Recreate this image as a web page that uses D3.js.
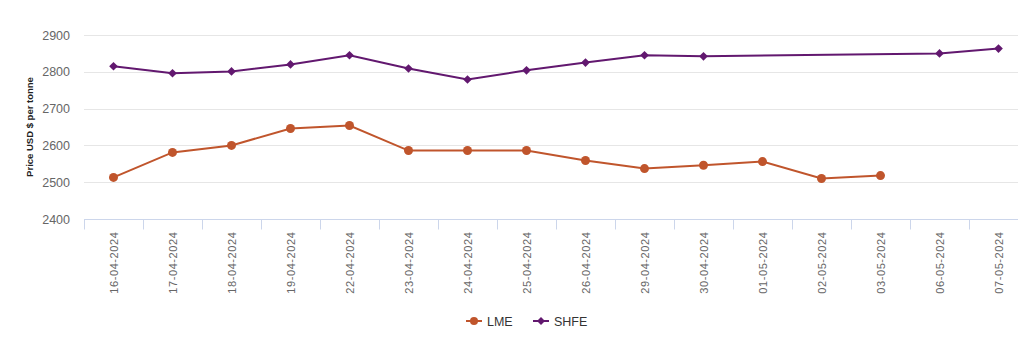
<!DOCTYPE html>
<html lang="en">
<head>
    <meta charset="UTF-8">
    <title>LME vs SHFE price</title>
    <script src="https://d3js.org/d3.v7.min.js"></script>
    <style>
        body { margin: 0; background: #fff; }
        text { font-family: "Liberation Sans", Arial, sans-serif; }
    </style>
</head>
<body>
    <div id="plot"></div>

    <script>
        // Dates and prices (USD per tonne); null = no quote that day
        const dates = ['16-04-2024', '17-04-2024', '18-04-2024', '19-04-2024', '22-04-2024',
            '23-04-2024', '24-04-2024', '25-04-2024', '26-04-2024', '29-04-2024',
            '30-04-2024', '01-05-2024', '02-05-2024', '03-05-2024', '06-05-2024', '07-05-2024'];
        const lme = [2513, 2581, 2600, 2646, 2654, 2586, 2586, 2586, 2559, 2537,
            2546, 2556, 2510, 2518, null, null];
        const shfe = [2815, 2796, 2801, 2820, 2845, 2809, 2779, 2804, 2825, 2845,
            2842, null, null, null, 2850, 2863];
        const yTicks = [2400, 2500, 2600, 2700, 2800, 2900];

        const width = 1028;
        const height = 338;
        const margin = { top: 35, right: 0, bottom: 119, left: 84 };
        const gridRight = 1018;

        const svg = d3.select('#plot')
            .append('svg')
            .attr('width', width)
            .attr('height', height);

        const xScale = d3.scaleBand()
            .domain(dates)
            .range([margin.left, width - margin.right]);

        const yScale = d3.scaleLinear()
            .domain([2400, 2900])
            .range([height - margin.bottom, margin.top]);

        const cx = d => xScale(d) + xScale.bandwidth() / 2;

        // Horizontal grid lines
        svg.append('g')
            .selectAll('line')
            .data(yTicks.slice(1))
            .join('line')
            .attr('x1', margin.left)
            .attr('x2', gridRight)
            .attr('y1', d => Math.round(yScale(d)) + 0.5)
            .attr('y2', d => Math.round(yScale(d)) + 0.5)
            .attr('stroke', '#e6e6e6');

        // Y tick labels
        svg.append('g')
            .selectAll('text')
            .data(yTicks)
            .join('text')
            .attr('x', 70)
            .attr('y', d => yScale(d) + 4.5)
            .attr('text-anchor', 'end')
            .attr('font-size', 12.5)
            .attr('fill', '#666')
            .text(d => d);

        // Y axis title
        svg.append('text')
            .attr('transform', `translate(33, ${(margin.top + height - margin.bottom) / 2}) rotate(-90)`)
            .attr('text-anchor', 'middle')
            .attr('font-family', '"Open Sans", sans-serif')
            .attr('font-size', 9.5)
            .attr('font-weight', 'bold')
            .attr('fill', '#222')
            .text('Price USD $ per tonne');

        // X axis line and tick marks at band edges
        const axisY = Math.round(yScale(2400)) + 0.5;
        svg.append('line')
            .attr('x1', margin.left)
            .attr('x2', gridRight)
            .attr('y1', axisY)
            .attr('y2', axisY)
            .attr('stroke', '#ccd6eb');

        svg.append('g')
            .selectAll('line')
            .data(dates)
            .join('line')
            .attr('x1', d => Math.round(xScale(d)) + 0.5)
            .attr('x2', d => Math.round(xScale(d)) + 0.5)
            .attr('y1', axisY)
            .attr('y2', axisY + 10)
            .attr('stroke', '#ccd6eb');

        // X labels, rotated
        svg.append('g')
            .selectAll('text')
            .data(dates)
            .join('text')
            .attr('transform', d => `translate(${cx(d) + 4}, ${axisY + 12}) rotate(-90)`)
            .attr('text-anchor', 'end')
            .attr('font-size', 11)
            .attr('letter-spacing', 0.6)
            .attr('fill', '#666')
            .text(d => d);

        const line = d3.line()
            .x(d => cx(d.date))
            .y(d => yScale(d.value));

        const toPoints = values => dates
            .map((date, i) => ({ date, value: values[i] }))
            .filter(d => d.value !== null);

        const lmeColor = '#c0552c';
        const shfeColor = '#62186f';

        // LME: gaps at the end only
        const lmePts = toPoints(lme);
        svg.append('path')
            .datum(lmePts)
            .attr('fill', 'none')
            .attr('stroke', lmeColor)
            .attr('stroke-width', 2)
            .attr('d', line);

        svg.append('g')
            .selectAll('circle')
            .data(lmePts)
            .join('circle')
            .attr('cx', d => cx(d.date))
            .attr('cy', d => yScale(d.value))
            .attr('r', 4.5)
            .attr('fill', lmeColor);

        // SHFE: missing days are bridged
        const shfePts = toPoints(shfe);
        svg.append('path')
            .datum(shfePts)
            .attr('fill', 'none')
            .attr('stroke', shfeColor)
            .attr('stroke-width', 2)
            .attr('d', line);

        const diamond = d3.symbol().type(d3.symbolDiamond2).size(48);
        svg.append('g')
            .selectAll('path')
            .data(shfePts)
            .join('path')
            .attr('transform', d => `translate(${cx(d.date)}, ${yScale(d.value)})`)
            .attr('d', diamond)
            .attr('fill', shfeColor);

        // Legend
        const legend = svg.append('g').attr('transform', 'translate(466, 321)');
        const items = [
            { name: 'LME', color: lmeColor, x: 0, marker: 'circle' },
            { name: 'SHFE', color: shfeColor, x: 67, marker: 'diamond' }
        ];
        items.forEach(it => {
            const g = legend.append('g').attr('transform', `translate(${it.x}, 0)`);
            g.append('line')
                .attr('x1', 0).attr('x2', 16)
                .attr('y1', 0).attr('y2', 0)
                .attr('stroke', it.color)
                .attr('stroke-width', 2);
            if (it.marker === 'circle') {
                g.append('circle').attr('cx', 8).attr('cy', 0).attr('r', 4).attr('fill', it.color);
            } else {
                g.append('path').attr('transform', 'translate(8,0)')
                    .attr('d', d3.symbol().type(d3.symbolDiamond2).size(40)).attr('fill', it.color);
            }
            g.append('text')
                .attr('x', 21)
                .attr('y', 4.5)
                .attr('font-family', '"Open Sans", sans-serif')
                .attr('font-size', 12.5)
                .attr('fill', '#333')
                .text(it.name);
        });
    </script>
</body>
</html>
